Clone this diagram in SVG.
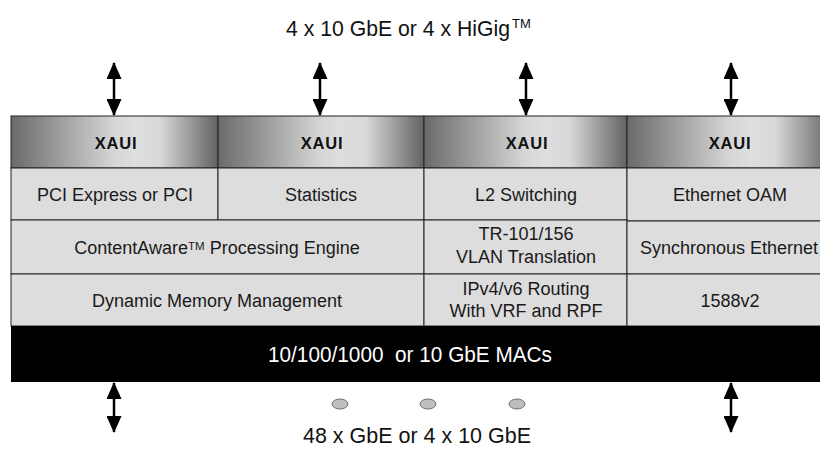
<svg xmlns="http://www.w3.org/2000/svg" width="820" height="449" viewBox="0 0 820 449">
  <style>
    .cell { fill: #dddddd; stroke: #222; stroke-width: 1; }
    .xaui { fill: url(#xg); stroke: #222; stroke-width: 1; }
    .t { font-family: "Liberation Sans", Arial, sans-serif; font-size: 18px; fill: #1a1a1a; text-anchor: middle; }
    .xt { font-family: "Liberation Sans", Arial, sans-serif; font-size: 16.5px; font-weight: bold; fill: #111; text-anchor: middle; letter-spacing: 0.8px; }
    .n { font-family: "Liberation Sans Narrow", "Liberation Sans", Arial, sans-serif; font-size: 22px; white-space: pre; }
    .arr { stroke: #000; stroke-width: 2.5; fill: none; marker-start: url(#ah); marker-end: url(#ah); }
    .dot { fill: #bdbdbd; stroke: #707070; stroke-width: 1; }
  </style>
  <defs>
    <linearGradient id="xg" x1="0" y1="0" x2="1" y2="0">
      <stop offset="0" stop-color="#6a6a6a"/>
      <stop offset="0.5" stop-color="#d6d6d6"/>
      <stop offset="0.6" stop-color="#dedede"/>
      <stop offset="0.72" stop-color="#d8d8d8"/>
      <stop offset="1" stop-color="#626262"/>
    </linearGradient>
    <marker id="ah" markerUnits="userSpaceOnUse" markerWidth="18" markerHeight="15" refX="16" refY="7.5" orient="auto-start-reverse">
      <path d="M0,0 L17,7.5 L0,15 z" fill="#000"/>
    </marker>
  </defs>

  <text id="title" class="n" x="286" y="36" fill="#111"><tspan textLength="224" lengthAdjust="spacingAndGlyphs">4 x 10 GbE or 4 x HiGig</tspan><tspan font-size="13" dy="-8" dx="2">TM</tspan></text>

  <g id="xaui1"><rect class="xaui" x="11" y="116" width="207" height="52"/><text class="xt" x="116" y="149">XAUI</text></g>
  <g id="xaui2"><rect class="xaui" x="218" y="116" width="206" height="52"/><text class="xt" x="322" y="149">XAUI</text></g>
  <g id="xaui3"><rect class="xaui" x="424" y="116" width="203" height="52"/><text class="xt" x="527" y="149">XAUI</text></g>
  <g id="xaui4"><rect class="xaui" x="627" y="116" width="206" height="52"/><text class="xt" x="730" y="149">XAUI</text></g>

  <g id="pci"><rect class="cell" x="11" y="168" width="207" height="52"/><text class="t" x="115" y="201">PCI Express or PCI</text></g>
  <g id="stats"><rect class="cell" x="218" y="168" width="206" height="52"/><text class="t" x="321" y="201">Statistics</text></g>
  <g id="l2"><rect class="cell" x="424" y="168" width="203" height="52"/><text class="t" x="526" y="201">L2 Switching</text></g>
  <g id="oam"><rect class="cell" x="627" y="168" width="206" height="53"/><text class="t" x="730" y="201">Ethernet OAM</text></g>

  <g id="content"><rect class="cell" x="11" y="220" width="413" height="54"/><text class="t" x="217" y="254">ContentAware<tspan font-size="11.5" dy="-4">TM</tspan><tspan dy="4"> Processing Engine</tspan></text></g>
  <g id="tr101"><rect class="cell" x="424" y="220" width="203" height="54"/><text class="t" x="526" y="240">TR-101/156</text><text class="t" x="526" y="263">VLAN Translation</text></g>
  <g id="sync"><rect class="cell" x="627" y="221" width="206" height="53"/><text class="t" x="729" y="254">Synchronous Ethernet</text></g>

  <g id="dmm"><rect class="cell" x="11" y="274" width="413" height="52"/><text class="t" x="217" y="307">Dynamic Memory Management</text></g>
  <g id="ipv4"><rect class="cell" x="424" y="274" width="203" height="52"/><text class="t" x="526" y="295">IPv4/v6 Routing</text><text class="t" x="526" y="317">With VRF and RPF</text></g>
  <g id="ptp"><rect class="cell" x="627" y="274" width="206" height="52"/><text class="t" x="730" y="307">1588v2</text></g>

  <g id="macs"><rect x="11" y="326" width="822" height="56" fill="#000"/><text class="n" x="268" y="362" fill="#fff" textLength="284" lengthAdjust="spacingAndGlyphs">10/100/1000  or 10 GbE MACs</text></g>

  <g id="connectors">
    <line class="arr" x1="114" y1="63" x2="114" y2="115"/>
    <line class="arr" x1="320" y1="63" x2="320" y2="115"/>
    <line class="arr" x1="526" y1="63" x2="526" y2="115"/>
    <line class="arr" x1="731" y1="63" x2="731" y2="115"/>
    <line class="arr" x1="114" y1="383" x2="114" y2="432"/>
    <line class="arr" x1="731" y1="383" x2="731" y2="432"/>
  </g>

  <g id="dots">
    <ellipse class="dot" cx="340" cy="404" rx="8" ry="5"/>
    <ellipse class="dot" cx="428" cy="404" rx="8" ry="5"/>
    <ellipse class="dot" cx="517" cy="404" rx="8" ry="5"/>
  </g>

  <text id="bottom" class="n" x="303" y="443" fill="#111" textLength="228" lengthAdjust="spacingAndGlyphs">48 x GbE or 4 x 10 GbE</text>
</svg>
